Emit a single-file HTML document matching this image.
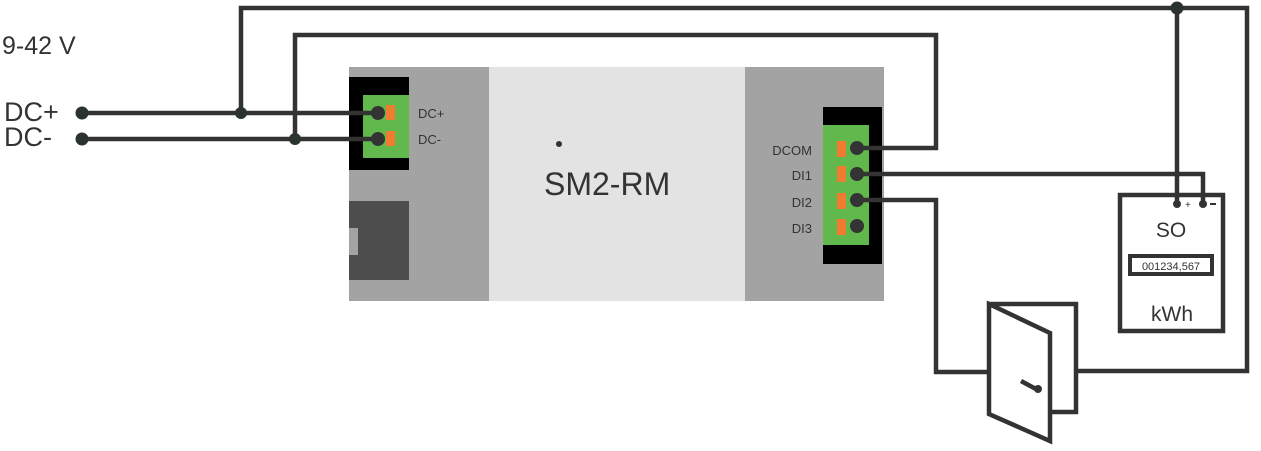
<!DOCTYPE html>
<html><head><meta charset="utf-8"><style>
html,body{margin:0;padding:0;background:#fff;}
svg{display:block;}
text{font-family:"Liberation Sans",sans-serif;fill:#333;}
</style></head><body>
<svg width="1261" height="451" viewBox="0 0 1261 451" xmlns="http://www.w3.org/2000/svg">
<!-- device -->
<rect x="349" y="67" width="140" height="234" fill="#a3a3a3"/>
<rect x="489" y="67" width="256" height="234" fill="#e3e3e3"/>
<rect x="745" y="67" width="139" height="234" fill="#a3a3a3"/>
<!-- left connector -->
<rect x="349" y="77" width="60" height="93" fill="#000"/>
<rect x="363" y="95" width="46" height="63" fill="#61b94e"/>
<rect x="386" y="105" width="9" height="15" fill="#f07c32"/>
<rect x="386" y="131" width="9" height="15" fill="#f07c32"/>
<text x="418" y="118" font-size="13">DC+</text>
<text x="418" y="144" font-size="13">DC-</text>
<!-- dark block -->
<rect x="349" y="201" width="60" height="79" fill="#4d4d4d"/>
<rect x="349" y="228" width="9" height="27" fill="#a3a3a3"/>
<!-- right connector -->
<rect x="823" y="107" width="59" height="157" fill="#000"/>
<rect x="823" y="125" width="46" height="120" fill="#61b94e"/>
<rect x="837" y="141" width="9" height="16" fill="#f07c32"/>
<rect x="837" y="166" width="9" height="16" fill="#f07c32"/>
<rect x="837" y="193" width="9" height="16" fill="#f07c32"/>
<rect x="837" y="219" width="9" height="16" fill="#f07c32"/>
<text x="812" y="155" font-size="13" text-anchor="end">DCOM</text>
<text x="812" y="180" font-size="13" text-anchor="end">DI1</text>
<text x="812" y="207" font-size="13" text-anchor="end">DI2</text>
<text x="812" y="233" font-size="13" text-anchor="end">DI3</text>
<circle cx="559" cy="144" r="3" fill="#333"/>
<text x="544" y="195" font-size="32">SM2-RM</text>
<text x="2" y="54" font-size="25">9-42 V</text>
<text x="4" y="121" font-size="27">DC+</text>
<text x="4" y="146" font-size="27">DC-</text>
<!-- wires -->
<g stroke="#333" stroke-width="4.5" fill="none" stroke-linejoin="miter">
<path d="M82 113H378"/>
<path d="M82 139H378"/>
<path d="M241 113V8H1247V371H1078"/>
<path d="M295 139V35H936V148H857"/>
<path d="M857 174H1203V204"/>
<path d="M1177 8V204"/>
<path d="M857 200H936V372H987"/>
</g>
<g fill="#2a332d">
<circle cx="82" cy="113" r="6.5"/><circle cx="82" cy="139" r="6.5"/>
<circle cx="241" cy="113" r="6"/><circle cx="295" cy="139" r="6"/>
<circle cx="1177" cy="8" r="6.5"/>
</g>
<g fill="#333">
<circle cx="378" cy="113" r="7"/><circle cx="378" cy="139" r="7"/>
<circle cx="857" cy="148" r="7"/><circle cx="857" cy="174" r="7"/>
<circle cx="857" cy="200" r="7"/><circle cx="857" cy="226" r="7"/>
<circle cx="1177" cy="204" r="4"/><circle cx="1203" cy="204" r="4"/>
</g>
<!-- meter -->
<rect x="1120" y="195" width="103" height="136" fill="none" stroke="#333" stroke-width="4.5"/>
<text x="1185" y="208" font-size="10">+</text>
<rect x="1210" y="203" width="6" height="2" fill="#333"/>
<text x="1171" y="237" font-size="21" text-anchor="middle">SO</text>
<rect x="1130" y="256" width="82" height="18" fill="none" stroke="#333" stroke-width="4"/>
<text x="1171" y="270" font-size="11" text-anchor="middle">001234,567</text>
<text x="1172" y="321" font-size="21" text-anchor="middle">kWh</text>
<!-- door -->
<g stroke="#333" stroke-width="4.5" fill="#fff" stroke-linejoin="miter">
<path d="M989 304H1076V412H1050" fill="none"/>
<path d="M989 304L1050 333V441L989 414Z"/>
<path d="M1021 381L1036 389" fill="none"/>
</g>
<circle cx="1038" cy="389" r="4" fill="#333"/>
</svg>
</body></html>
